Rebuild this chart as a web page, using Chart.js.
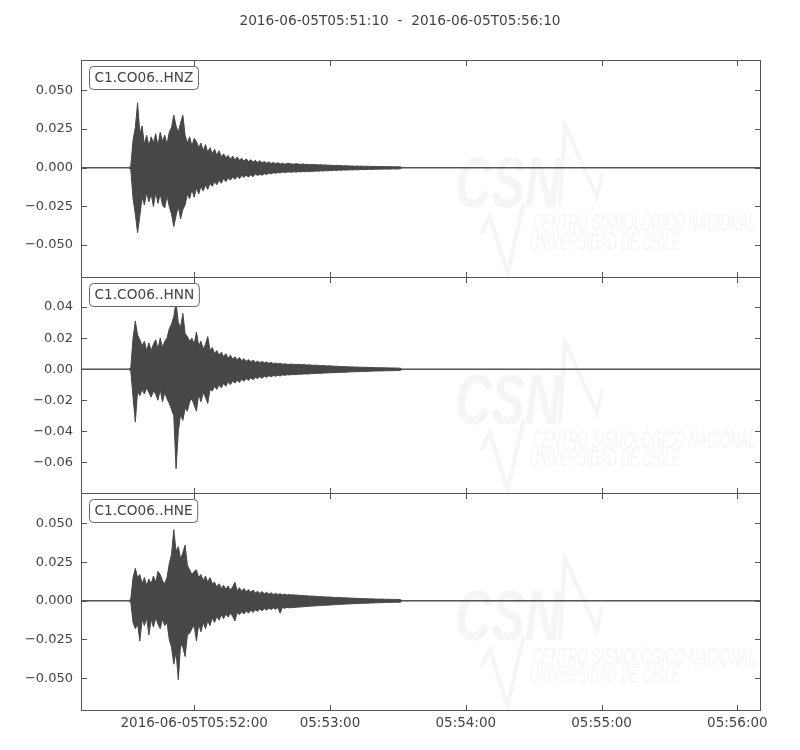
<!DOCTYPE html>
<html>
<head>
<meta charset="utf-8">
<script src="https://cdn.jsdelivr.net/npm/chart.js@4.4.0/dist/chart.umd.min.js"></script>
<style>
  html, body { margin: 0; padding: 0; background: #fff; }
  #wrap { width: 800px; height: 750px; }
</style>
</head>
<body>
<div id="wrap"><canvas id="seis" width="800" height="750"></canvas></div>
<script>
// --- window / axes ---
const windowTitle = '2016-06-05T05:51:10  -  2016-06-05T05:56:10';
const windowSecs = [0, 300];            // seconds after 05:51:10
const xTickSecs = [50, 110, 170, 230, 290];
const xTickLabels = ['2016-06-05T05:52:00', '05:53:00', '05:54:00', '05:55:00', '05:56:00'];
const channelNames = ['C1.CO06..HNZ', 'C1.CO06..HNN', 'C1.CO06..HNE'];
const hnzTicks = [-0.05, -0.025, 0, 0.025, 0.05];
const hnnTicks = [-0.06, -0.04, -0.02, 0, 0.02, 0.04];
const hneTicks = [-0.05, -0.025, 0, 0.025, 0.05];
const hnzRange = [-0.0706, 0.0694];
const hnnRange = [-0.0800, 0.0594];
const hneRange = [-0.0706, 0.0694];

// --- traces: peak envelope read per second, starting at 22 s ---
const traceStartSec = 22;
const traceStepSec = 1;
const quietLevel = 0;

const hnzUpper = [
  .001, .018, .026, .042, .022, .027, .015, .021, .014, .020,
  .016, .022, .014, .023, .017, .021, .015, .023, .026, .034,
  .027, .023, .029, .034, .021, .016, .020, .014, .019, .017,
  .013, .016, .011, .015, .010, .013, .009, .012, .008, .011,
  .007, .009, .0065, .008, .0055, .0075, .005, .007, .0048, .0062,
  .0042, .0058, .004, .0052, .0036, .0048, .0034, .0045, .0032, .004,
  .003, .0038, .0028, .0034, .0026, .0032, .0024, .003, .0023, .0028,
  .0027, .0025, .0023, .0026, .0024, .0022, .0025, .0021, .0023, .002,
  .0022, .0019, .0021, .0018, .002, .0017, .0019, .0016, .0017, .0015,
  .0014, .0016, .0013, .0014, .0012, .0013, .0012, .0011, .0012, .001,
  .0011, .001, .0011, .0009, .001, .0009, .0009, .0008, .0009, .0008,
  .0008, .0007, .0008, .0007, .0007, .0007, .0006, .0007, .0006, .0006
];
const hnzLower = [
  -.001, -.020, -.030, -.042, -.031, -.019, -.024, -.016, -.022, -.017,
  -.025, -.016, -.023, -.017, -.024, -.026, -.018, -.025, -.030, -.038,
  -.031, -.025, -.033, -.027, -.024, -.017, -.020, -.014, -.019, -.013,
  -.017, -.012, -.015, -.011, -.014, -.010, -.012, -.009, -.011, -.008,
  -.010, -.007, -.009, -.0065, -.008, -.006, -.0075, -.0055, -.007, -.005,
  -.0062, -.0048, -.006, -.0045, -.0058, -.004, -.005, -.0042, -.0048, -.0038,
  -.0044, -.0034, -.004, -.0032, -.0036, -.003, -.0034, -.0027, -.0031, -.0028,
  -.0027, -.0029, -.0026, -.0028, -.0025, -.0027, -.0024, -.0026, -.0023, -.0025,
  -.0022, -.0023, -.0021, -.0022, -.002, -.0021, -.0019, -.002, -.0018, -.0017,
  -.0016, -.0017, -.0015, -.0016, -.0014, -.0015, -.0014, -.0013, -.0014, -.0012,
  -.0013, -.0012, -.0011, -.0012, -.0011, -.001, -.0011, -.001, -.0009, -.001,
  -.0009, -.0009, -.0008, -.0009, -.0008, -.0008, -.0007, -.0008, -.0007, -.0007
];
const hnnUpper = [
  .001, .020, .031, .022, .019, .015, .018, .012, .017, .012,
  .016, .019, .013, .020, .014, .018, .020, .026, .029, .034,
  .043, .030, .027, .036, .023, .021, .018, .020, .016, .024,
  .015, .018, .013, .016, .021, .012, .014, .010, .012, .009,
  .011, .008, .010, .007, .009, .0065, .008, .006, .0075, .0055,
  .0068, .005, .0062, .0047, .0058, .0044, .0052, .0042, .005, .004,
  .0046, .0038, .0044, .0036, .004, .0034, .0039, .0032, .0036, .0031,
  .0032, .0033, .0031, .003, .0032, .0029, .003, .0028, .0027, .0028,
  .0026, .0025, .0026, .0024, .0023, .0024, .0022, .0021, .0022, .002,
  .0019, .0019, .0018, .0017, .0018, .0016, .0016, .0015, .0015, .0014,
  .0014, .0013, .0013, .0012, .0012, .0012, .0011, .0011, .001, .001,
  .001, .0009, .0009, .0009, .0008, .0008, .0008, .0008, .0007, .0007
];
const hnnLower = [
  -.001, -.018, -.034, -.014, -.017, -.013, -.016, -.012, -.015, -.018,
  -.014, -.016, -.020, -.013, -.021, -.015, -.019, -.022, -.026, -.030,
  -.064, -.040, -.029, -.033, -.025, -.027, -.021, -.019, -.023, -.027,
  -.016, -.021, -.015, -.018, -.022, -.013, -.014, -.011, -.013, -.010,
  -.012, -.009, -.011, -.008, -.010, -.0075, -.009, -.007, -.0085, -.0065,
  -.0078, -.006, -.0072, -.0055, -.0068, -.0052, -.006, -.0048, -.0058, -.0045,
  -.0052, -.0042, -.0049, -.004, -.0046, -.0038, -.0044, -.0036, -.004, -.0035,
  -.0037, -.0035, -.0034, -.0035, -.0032, -.0033, -.0031, -.003, -.0031, -.0029,
  -.0028, -.0028, -.0027, -.0026, -.0026, -.0025, -.0024, -.0024, -.0023, -.0022,
  -.0022, -.0021, -.002, -.002, -.0019, -.0019, -.0018, -.0017, -.0017, -.0016,
  -.0016, -.0015, -.0015, -.0014, -.0014, -.0013, -.0013, -.0012, -.0012, -.0011,
  -.0011, -.0011, -.001, -.001, -.001, -.0009, -.0009, -.0009, -.0008, -.0008
];
const hneUpper = [
  .001, .015, .021, .015, .017, .011, .015, .010, .014, .011,
  .016, .012, .019, .017, .013, .011, .015, .024, .030, .046,
  .032, .035, .027, .031, .036, .023, .020, .017, .019, .020,
  .015, .017, .013, .016, .012, .015, .011, .012, .009, .011,
  .008, .010, .0075, .0095, .007, .009, .012, .0065, .0085, .006,
  .008, .0058, .0072, .0055, .007, .005, .0062, .0048, .006, .0045,
  .0055, .0043, .0052, .0041, .0048, .004, .0046, .0038, .0043, .0037,
  .0041, .0038, .0039, .0036, .0037, .0034, .0035, .0032, .0033, .003,
  .0031, .0029, .0029, .0027, .0027, .0026, .0025, .0025, .0024, .0023,
  .0022, .0022, .0021, .002, .002, .0019, .0018, .0018, .0017, .0016,
  .0016, .0015, .0015, .0014, .0014, .0013, .0013, .0012, .0012, .0011,
  .0011, .0011, .001, .001, .001, .0009, .0009, .0009, .0008, .0008
];
const hneLower = [
  -.001, -.014, -.018, -.015, -.026, -.012, -.016, -.011, -.022, -.012,
  -.017, -.011, -.015, -.018, -.012, -.016, -.014, -.025, -.030, -.041,
  -.033, -.051, -.028, -.030, -.036, -.022, -.021, -.018, -.016, -.026,
  -.015, -.020, -.014, -.018, -.013, -.016, -.011, -.014, -.010, -.0125,
  -.009, -.0115, -.0085, -.0105, -.008, -.010, -.013, -.0075, -.009, -.007,
  -.0085, -.0065, -.008, -.006, -.0075, -.0058, -.0068, -.0052, -.0065, -.005,
  -.006, -.0048, -.0056, -.0046, -.0055, -.0044, -.008, -.0042, -.0049, -.0041,
  -.0046, -.0043, -.0044, -.0041, -.0041, -.0039, -.0039, -.0037, -.0036, -.0035,
  -.0034, -.0033, -.0032, -.0031, -.003, -.0029, -.0029, -.0028, -.0027, -.0026,
  -.0025, -.0024, -.0023, -.0023, -.0022, -.0021, -.002, -.002, -.0019, -.0018,
  -.0018, -.0017, -.0016, -.0016, -.0015, -.0015, -.0014, -.0014, -.0013, -.0013,
  -.0012, -.0012, -.0011, -.0011, -.001, -.001, -.001, -.0009, -.0009, -.0009
];

// --- styles ---
const traceColor = '#474747';
const frameColor = '#555555';
const textColor = '#444444';
const watermarkColor = '#f5f5f5';
const tickLen = 5.5;

const panels = [
  { name: channelNames[0], upper: hnzUpper, lower: hnzLower, ticks: hnzTicks, range: hnzRange, digits: 3 },
  { name: channelNames[1], upper: hnnUpper, lower: hnnLower, ticks: hnnTicks, range: hnnRange, digits: 2 },
  { name: channelNames[2], upper: hneUpper, lower: hneLower, ticks: hneTicks, range: hneRange, digits: 3 }
];

// one envelope side of a trace, flat before and after the shaking
function buildEnvelope(values) {
  const pts = [{ x: windowSecs[0], y: quietLevel }, { x: traceStartSec - traceStepSec, y: quietLevel }];
  values.forEach((v, i) => {
    pts.push({ x: traceStartSec + i * traceStepSec, y: v });
  });
  pts.push({ x: traceStartSec + values.length * traceStepSec, y: quietLevel });
  pts.push({ x: windowSecs[1], y: quietLevel });
  return pts;
}

function fmtTick(v, digits) {
  return v.toFixed(digits).replace('-', '\u2212');
}

const yScales = {};
panels.forEach((p, i) => {
  yScales['y' + i] = {
    type: 'linear',
    position: 'left',
    stack: 'traces',
    stackWeight: 1,
    weight: panels.length - 1 - i,
    min: p.range[0],
    max: p.range[1],
    afterBuildTicks: s => { s.ticks = p.ticks.map(v => ({ value: v })); },
    afterFit: s => { s.width = 81; },
    ticks: {
      callback: v => fmtTick(v, p.digits),
      color: textColor,
      padding: 8,
      font: { family: 'DejaVu Sans', size: 13 }
    },
    grid: { display: false, drawTicks: false },
    border: { display: false }
  };
});

const datasets = [];
panels.forEach((p, i) => {
  datasets.push({
    label: p.name,
    data: buildEnvelope(p.upper),
    yAxisID: 'y' + i,
    borderColor: traceColor,
    backgroundColor: traceColor,
    borderWidth: 1,
    pointRadius: 0,
    fill: '+1',
    tension: 0
  });
  datasets.push({
    label: p.name + ' low',
    data: buildEnvelope(p.lower),
    yAxisID: 'y' + i,
    borderColor: traceColor,
    borderWidth: 1,
    pointRadius: 0,
    fill: false,
    tension: 0
  });
});

// frame, inward ticks, channel labels and the faint CSN watermark
const panelDecor = {
  id: 'panelDecor',
  beforeDatasetsDraw(chart) {
    const ctx = chart.ctx;
    const { left, right } = chart.chartArea;
    const w = right - left;
    panels.forEach((p, i) => {
      const ys = chart.scales['y' + i];
      const h = ys.bottom - ys.top;
      const px = f => left + w * f;
      const py = f => ys.top + h * f;
      ctx.save();
      ctx.fillStyle = watermarkColor;
      ctx.strokeStyle = watermarkColor;
      ctx.font = 'italic bold 70px "Liberation Sans"';
      ctx.fillText('CSN', px(0.551), py(0.678), 106);
      ctx.font = 'italic 23px "Liberation Sans"';
      ctx.fillText('CENTRO SISMOLÓGICO NACIONAL', px(0.665), py(0.79), 223);
      ctx.fillText('UNIVERSIDAD DE CHILE', px(0.66), py(0.875), 151);
      ctx.lineWidth = 4;
      ctx.lineJoin = 'miter';
      ctx.beginPath();
      ctx.moveTo(px(0.705), py(0.67));
      ctx.lineTo(px(0.713), py(0.30));
      ctx.lineTo(px(0.76), py(0.63));
      ctx.lineTo(px(0.768), py(0.52));
      ctx.moveTo(px(0.59), py(0.80));
      ctx.lineTo(px(0.602), py(0.72));
      ctx.lineTo(px(0.628), py(0.98));
      ctx.lineTo(px(0.652), py(0.66));
      ctx.stroke();
      ctx.restore();
    });
  },
  afterDatasetsDraw(chart) {
    const ctx = chart.ctx;
    const { left, right } = chart.chartArea;
    const xs = chart.scales.x;
    const l = Math.round(left) + 0.5;
    const r = Math.round(right) + 0.5;
    panels.forEach((p, i) => {
      const ys = chart.scales['y' + i];
      const top = Math.round(ys.top) + 0.5;
      const bottom = Math.round(ys.bottom) + 0.5;
      ctx.save();
      ctx.strokeStyle = frameColor;
      ctx.lineWidth = 1;
      ctx.strokeRect(l, top, r - l, bottom - top);
      ctx.beginPath();
      ys.ticks.forEach(t => {
        const y = Math.round(ys.getPixelForValue(t.value)) + 0.5;
        ctx.moveTo(l, y); ctx.lineTo(l + tickLen, y);
        ctx.moveTo(r, y); ctx.lineTo(r - tickLen, y);
      });
      xs.ticks.forEach(t => {
        const x = Math.round(xs.getPixelForValue(t.value)) + 0.5;
        ctx.moveTo(x, top); ctx.lineTo(x, top + tickLen);
        ctx.moveTo(x, bottom); ctx.lineTo(x, bottom - tickLen);
      });
      ctx.stroke();

      // channel label in a rounded box
      ctx.font = '13.7px "DejaVu Sans"';
      const tw = ctx.measureText(p.name).width;
      const bx = l + 8, by = top + 6, bw = tw + 10, bh = 23;
      ctx.beginPath();
      ctx.roundRect(bx, by, bw, bh, 4);
      ctx.fillStyle = '#ffffff';
      ctx.fill();
      ctx.strokeStyle = '#666666';
      ctx.stroke();
      ctx.fillStyle = textColor;
      ctx.textBaseline = 'middle';
      ctx.fillText(p.name, bx + 5, by + bh / 2 + 0.5);
      ctx.restore();
    });
  }
};

new Chart(document.getElementById('seis'), {
  type: 'line',
  data: { datasets: datasets },
  options: {
    responsive: false,
    animation: false,
    events: [],
    layout: { padding: 0 },
    plugins: {
      legend: { display: false },
      tooltip: { enabled: false },
      title: {
        display: true,
        text: windowTitle,
        color: textColor,
        font: { family: 'DejaVu Sans', size: 13.7, weight: 'normal' },
        padding: { top: 13, bottom: 31 }
      }
    },
    scales: {
      x: {
        type: 'linear',
        min: windowSecs[0],
        max: windowSecs[1],
        afterBuildTicks: s => { s.ticks = xTickSecs.map(v => ({ value: v })); },
        afterFit: s => { s.height = 40; },
        ticks: {
          callback: (v, idx) => xTickLabels[idx],
          color: textColor,
          maxRotation: 0,
          autoSkip: false,
          padding: 5,
          font: { family: 'DejaVu Sans', size: 13.5 }
        },
        grid: { display: false, drawTicks: false },
        border: { display: false }
      },
      ...yScales,
      // empty margin on the right, so the title centres on the whole figure
      margin: {
        type: 'linear',
        position: 'right',
        afterFit: s => { s.width = 40; },
        ticks: { display: false },
        grid: { display: false, drawTicks: false },
        border: { display: false }
      }
    }
  },
  plugins: [panelDecor]
});
</script>
</body>
</html>
